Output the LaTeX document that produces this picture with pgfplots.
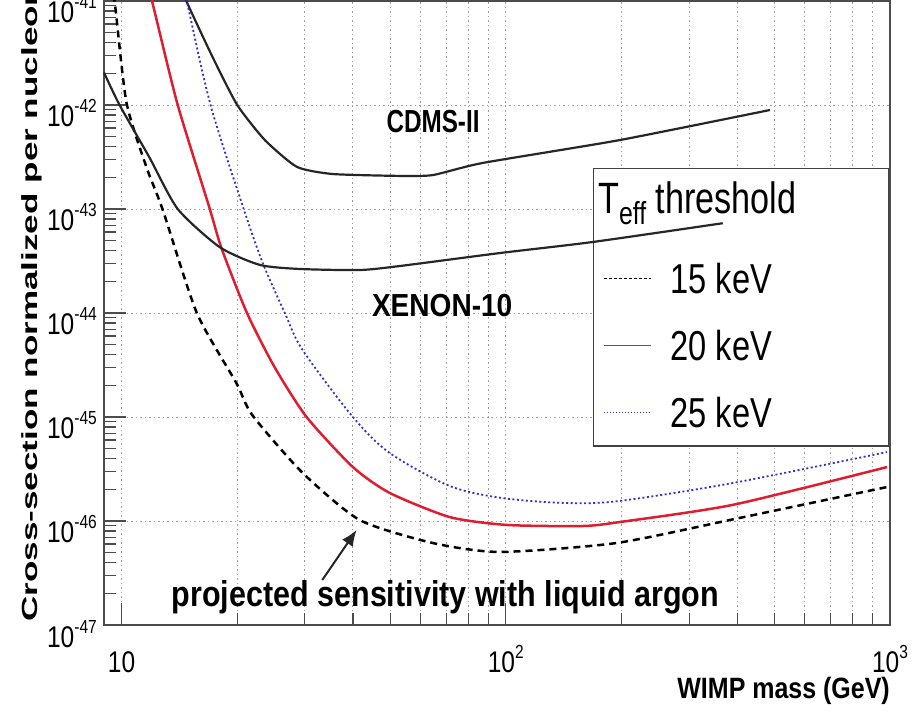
\documentclass[border=0pt]{standalone}
\usepackage{fontspec}
\setmainfont{Liberation Sans}
\newfontfamily\tickf{Liberation Sans}[FakeStretch=0.82]
\newfontfamily\legf{Liberation Sans}[FakeStretch=0.78]
\newfontfamily\annf{Liberation Sans}[FakeStretch=0.76]
\newfontfamily\xenf{Liberation Sans}[FakeStretch=0.88]
\newfontfamily\projf{Liberation Sans}[FakeStretch=0.85]
\newfontfamily\xlabf{Liberation Sans}[FakeStretch=0.85]
\newfontfamily\ylabf{Liberation Sans}[FakeStretch=1.6]
\usepackage{pgfplots}
\pgfplotsset{compat=1.18}
\usetikzlibrary{arrows.meta}
\definecolor{myred}{RGB}{222,30,48}
\definecolor{myblue}{RGB}{50,50,205}
\newcommand{\ytl}[1]{{\tickf\fontsize{30}{30}\selectfont 10\raisebox{14bp}{\fontsize{19}{19}\selectfont -#1}}}
\newcommand{\xtl}[1]{{\tickf\fontsize{30}{30}\selectfont 10\raisebox{14bp}{\fontsize{19}{19}\selectfont #1}}}
\newcommand{\legentry}[1]{\makebox[218bp][l]{\legf\fontsize{42}{42}\selectfont #1\rule[-18.5bp]{0pt}{67bp}}}
\newcommand{\legtitle}{{\legf\fontsize{44}{44}\selectfont T\raisebox{-11bp}{\fontsize{32}{32}\selectfont eff} threshold}}
\begin{document}
\begin{tikzpicture}
% y values are cross-sections in units of 1e-47 cm^2
\begin{axis}[
  set layers,
  xmode=log, ymode=log,
  scale only axis, width=786bp, height=624bp,
  xmin=9, xmax=1000, ymin=1, ymax=1e6,
  xtick={10,100,1000},
  xticklabels={{\tickf\fontsize{30}{30}\selectfont 10},\xtl{2},\xtl{3}},
  minor xtick={20,30,40,50,60,70,80,90,200,300,400,500,600,700,800,900},
  ytick={1,10,100,1000,10000,100000,1000000},
  yticklabels={\ytl{47},\ytl{46},\ytl{45},\ytl{44},\ytl{43},\ytl{42},\ytl{41}},
  minor ytick={2,3,4,5,6,7,8,9,
               20,30,40,50,60,70,80,90,
               200,300,400,500,600,700,800,900,
               2000,3000,4000,5000,6000,7000,8000,9000,
               20000,30000,40000,50000,60000,70000,80000,90000,
               200000,300000,400000,500000,600000,700000,800000,900000},
  tick pos=left, tick align=inside,
  major tick length=22bp, minor tick length=12bp,
  tick style={black!70, line width=1.2bp},
  axis line style={black!70, line width=1.5bp},
  xmajorgrids, xminorgrids, ymajorgrids,
  grid style={gray!75, line width=0.9bp, dash pattern=on 1.5bp off 3bp},
  yticklabel style={anchor=base east, inner sep=0pt, xshift=-7bp, yshift=-22bp},
  xticklabel style={anchor=base, inner sep=0pt, yshift=-47bp},
  xlabel={\xlabf\bfseries\fontsize{29.5}{29.5}\selectfont WIMP mass (GeV)},
  every axis x label/.style={at={(rel axis cs:1,0)}, anchor=base east, yshift=-73bp, inner sep=0pt},
  ylabel={\ylabf\bfseries\fontsize{22}{22}\selectfont Cross-section normalized per nucleon},
  every axis y label/.style={at={(rel axis cs:-0.0852,0.0048)}, rotate=90, anchor=base west, inner sep=0pt},
  legend cell align=left,
  legend style={at={(rel axis cs:0.622,0.7324)}, anchor=north west,
    draw=black!75, line width=1.3bp, fill=white,
    inner sep=0pt, row sep=0pt, column sep=0pt,
    nodes={inner sep=0pt, text depth=}},
  legend image code/.code={\path[draw=none] (0,0) -- (77bp,0); \draw[#1, line width=1bp] (10bp,0) -- (57bp,0);},
]
% legend: title row, then one row per threshold
\addlegendimage{legend image code/.code={\path[draw=none] (0,0) -- (77bp,0);}}
\addlegendentry{\makebox[218bp]{\rule[-38.25bp]{0pt}{76.5bp}}}
\addlegendimage{draw=black, dash pattern=on 3bp off 2bp}
\addlegendentry{\legentry{15 keV}}
\addlegendimage{draw=myred, solid}
\addlegendentry{\legentry{20 keV}}
\addlegendimage{draw=myblue, dash pattern=on 1.5bp off 1.5bp}
\addlegendentry{\legentry{25 keV}}

% CDMS-II
\addplot[forget plot, black!85, line width=2.2bp, smooth, tension=0.35] table {
14.5 1.15e6
15.2 7.8e5
17.3 2.83e5
20.0 1.0e5
23.6 4.6e4
28.6 2.54e4
35.4 2.17e4
53 2.08e4
64.6 2.12e4
87 2.77e4
198 4.6e4
487 8.95e4
};
% XENON-10
\addplot[forget plot, on layer=axis foreground, black!85, line width=2.2bp, smooth, tension=0.4] table {
9.0 2.05e5
9.88 1.0e5
11.8 3.16e4
14.0 1.0e4
18.0 4300
22.9 2900
29.1 2650
41.7 2590
53 2830
96.4 3770
168.6 4820
367 7300
};
% 15 keV
\addplot[forget plot, black, line width=2.5bp, dash pattern=on 7bp off 5bp, smooth, tension=0.4] table {
9.53 1.15e6
9.65 8.2e5
10.3 1.05e5
11.6 2.54e4
12.8 9800
15.7 1000
19.9 212
21.9 104
29.6 29
41.7 10.2
64.6 6.14
96.4 5.04
194 6.14
406 10.7
982 21.2
};
% 20 keV
\addplot[forget plot, myred, line width=2.5bp, smooth, tension=0.4] table {
11.9 1.15e6
12.2 7.8e5
14.0 1.0e5
16.9 1.05e4
18.2 4200
21.2 1000
25.0 303
30.3 100
40 33
49.9 18.6
71.5 10.9
100.7 9.16
158.8 8.95
198 9.77
390 14.3
982 33
};
% 25 keV
\addplot[forget plot, myblue, line width=1.8bp, dash pattern=on 2bp off 2.5bp, smooth, tension=0.5] table {
14.7 1.15e6
15.0 7.8e5
17.1 9.57e4
20.7 1.05e4
23.3 3030
26.6 1000
29.6 440
40 100
49.9 45
71.5 21.7
98.2 16.6
144 14.9
198 15.6
390 23.2
982 46
};

\node[anchor=base west, inner sep=0pt] at (axis cs:48.9,5.38e4) {\annf\bfseries\fontsize{32}{32}\selectfont CDMS-II};
\node[anchor=base west, inner sep=0pt] at (axis cs:44.8,916) {\xenf\bfseries\fontsize{32}{32}\selectfont XENON-10};
\node[anchor=base west, inner sep=0pt] at (axis cs:13.5,1.52) {\projf\bfseries\fontsize{36}{36}\selectfont projected sensitivity with liquid argon};
\draw[-{Latex[length=16bp,width=13bp]}, line width=2bp, black!85] (axis cs:33.3,2.71) -- (axis cs:40.9,8.2);
\begin{pgfonlayer}{axis foreground}
\node[anchor=base west, inner sep=0pt] at (rel axis cs:0.6285,0.6587) {\legtitle};
\end{pgfonlayer}
\end{axis}
\pgfresetboundingbox
\path[use as bounding box] (-104bp,-86bp) rectangle (808bp,625bp);
\end{tikzpicture}
\end{document}
